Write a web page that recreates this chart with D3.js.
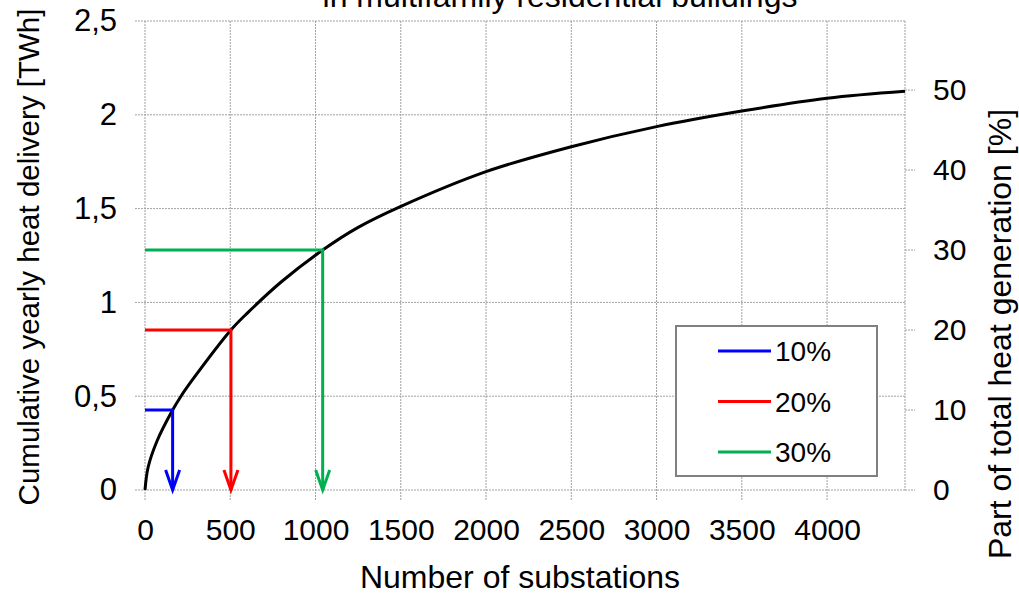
<!DOCTYPE html>
<html>
<head>
<meta charset="utf-8">
<script src="https://cdn.jsdelivr.net/npm/d3@7"></script>
<style>
  html, body { margin: 0; padding: 0; background: #fff; }
  svg { display: block; font-family: "Liberation Sans", Arial, sans-serif; }
</style>
</head>
<body>
<svg id="chart" width="1019" height="595"></svg>
<script>
// ---- data ----
const substations = [0, 18, 70, 162, 211, 282, 504, 600, 800, 1042, 1250, 1501, 2000, 2500, 3000, 3500, 4000, 4457];
const delivery    = [0, 0.120, 0.260, 0.426, 0.500, 0.592, 0.853, 0.943, 1.110, 1.279, 1.400, 1.512, 1.697, 1.830, 1.937, 2.020, 2.088, 2.125];
const thresholdLabels = ["10%", "20%", "30%"];
const thresholdSubstations = [162, 504, 1042];
const thresholdDelivery = [0.426, 0.853, 1.279];
const xTicks = [0, 500, 1000, 1500, 2000, 2500, 3000, 3500, 4000];
const yTicks = [0, 0.5, 1, 1.5, 2, 2.5];
const yTickLabels = ["0", "0,5", "1", "1,5", "2", "2,5"];
const y2Ticks = [0, 10, 20, 30, 40, 50];
const xMax = 4457;
const yMax = 2.5;
const y2Max = 58.63;
const titleText = "in multifamily residential buildings";
const xTitle = "Number of substations";
const yTitle = "Cumulative yearly heat delivery [TWh]";
const y2Title = "Part of total heat generation [%]";

// ---- styles ----
const thresholdColors = ["#0000ff", "#ff0000", "#00b050"];
const gridColor = "#a0a0a0";

const svg = d3.select("#chart");
const L = 145, R = 905, T = 21, B = 490;

const x = d3.scaleLinear().domain([0, xMax]).range([L, R]);
const y = d3.scaleLinear().domain([0, yMax]).range([B, T]);
const y2 = d3.scaleLinear().domain([0, y2Max]).range([B, T]);

const tickFs = 30, titleFs = 32, legendFs = 28;

// gridlines (dotted)
const grid = svg.append("g").attr("stroke", gridColor).attr("stroke-width", 1).attr("stroke-dasharray", "2,1");
xTicks.concat([xMax]).forEach(v => {
  grid.append("line").attr("x1", x(v)).attr("x2", x(v)).attr("y1", T).attr("y2", B + (v === xMax ? 0 : 10));
});
yTicks.forEach(v => {
  grid.append("line").attr("x1", L - 10).attr("x2", R).attr("y1", y(v)).attr("y2", y(v));
});
y2Ticks.forEach(v => {
  grid.append("line").attr("x1", R).attr("x2", R + 10).attr("y1", y2(v)).attr("y2", y2(v));
});

// axes text via d3 axes (lines hidden)
const xAxis = svg.append("g").attr("transform", `translate(0,${B})`)
  .call(d3.axisBottom(x).tickValues(xTicks).tickSize(0).tickPadding(29).tickFormat(d3.format("d")));
const yAxis = svg.append("g").attr("transform", `translate(${L},0)`)
  .call(d3.axisLeft(y).tickValues(yTicks).tickSize(0).tickPadding(28).tickFormat((d, i) => yTickLabels[i]));
const y2Axis = svg.append("g").attr("transform", `translate(${R},0)`)
  .call(d3.axisRight(y2).tickValues(y2Ticks).tickSize(0).tickPadding(28).tickFormat(d3.format("d")));
[xAxis, yAxis, y2Axis].forEach(g => {
  g.select(".domain").remove();
  g.selectAll("text").attr("font-size", tickFs).attr("font-family", "Liberation Sans, Arial, sans-serif").attr("fill", "#000");
});
yAxis.selectAll("text").attr("font-size", 31);

// curve
const pts = substations.map((s, i) => [s, delivery[i]]);
svg.append("path").datum(pts)
  .attr("fill", "none").attr("stroke", "#000").attr("stroke-width", 3)
  .attr("d", d3.line().x(d => x(d[0])).y(d => y(d[1])).curve(d3.curveCatmullRom.alpha(0.5)));

// thresholds
thresholdLabels.forEach((lab, i) => {
  const g = svg.append("g").attr("stroke", thresholdColors[i]).attr("stroke-width", 3).attr("fill", "none");
  const px = x(thresholdSubstations[i]), py = y(thresholdDelivery[i]);
  g.append("path").attr("d", `M${x(0)},${py}H${px}V${y(0)}`);
  g.append("path").attr("d", `M${px - 7},${y(0) - 20}L${px},${y(0)}L${px + 7},${y(0) - 20}`);
});

// legend
const lg = svg.append("g");
lg.append("rect").attr("x", 676).attr("y", 326).attr("width", 201).attr("height", 150)
  .attr("fill", "#fff").attr("stroke", "#808080").attr("stroke-width", 2);
thresholdLabels.forEach((lab, i) => {
  const yy = 351 + i * 50.5;
  lg.append("line").attr("x1", 718).attr("x2", 771).attr("y1", yy).attr("y2", yy)
    .attr("stroke", thresholdColors[i]).attr("stroke-width", 3);
  lg.append("text").attr("x", 775).attr("y", yy).attr("dy", "0.36em").attr("font-size", legendFs).text(lab);
});

// titles
svg.append("text").attr("x", 560).attr("y", 6.5).attr("text-anchor", "middle").attr("font-size", titleFs).text(titleText);
svg.append("text").attr("x", 520).attr("y", 588).attr("text-anchor", "middle").attr("font-size", titleFs).text(xTitle);
svg.append("text").attr("transform", "translate(39,257) rotate(-90)").attr("text-anchor", "middle")
  .attr("font-size", 29.5).text(yTitle);
svg.append("text").attr("transform", "translate(1011,334) rotate(-90)").attr("text-anchor", "middle").attr("font-size", titleFs).text(y2Title);
</script>
</body>
</html>
